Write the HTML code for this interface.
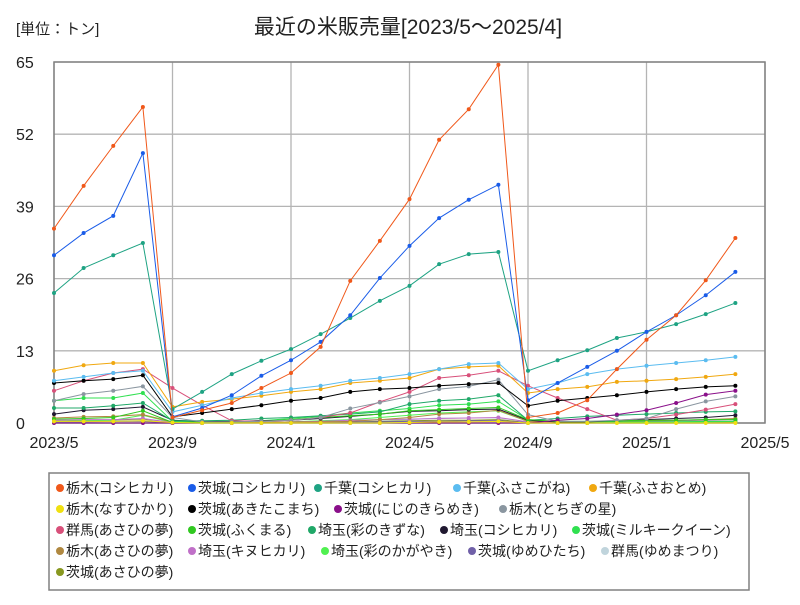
<!DOCTYPE html>
<html><head><meta charset="utf-8"><style>
body{margin:0;background:#fff;font-family:"Liberation Sans","Noto Sans CJK JP",sans-serif;}
svg text{font-family:"Liberation Sans","Noto Sans CJK JP",sans-serif;}
</style></head><body>
<svg id="c" width="800" height="600" xmlns="http://www.w3.org/2000/svg">
<rect width="800" height="600" fill="#fff"/>
<text x="16" y="34" font-size="15" fill="#222">[単位：トン]</text>
<text x="408" y="34" font-size="21" fill="#222" text-anchor="middle">最近の米販売量[2023/5～2025/4]</text>
<g id="grid"></g><g id="series"></g><g id="legend"></g>
</svg>
<script>
const yTicks = [0,13,26,39,52,65];
const xTickLabels = ["2023/5","2023/9","2024/1","2024/5","2024/9","2025/1","2025/5"];
const names = ["栃木(コシヒカリ)","茨城(コシヒカリ)","千葉(コシヒカリ)","千葉(ふさこがね)","千葉(ふさおとめ)","栃木(なすひかり)","茨城(あきたこまち)","茨城(にじのきらめき)","栃木(とちぎの星)","群馬(あさひの夢)","茨城(ふくまる)","埼玉(彩のきずな)","埼玉(コシヒカリ)","茨城(ミルキークイーン)","栃木(あさひの夢)","埼玉(キヌヒカリ)","埼玉(彩のかがやき)","茨城(ゆめひたち)","群馬(ゆめまつり)","茨城(あさひの夢)"];
const colors = ["#f0581a","#1a5ce8","#1ea383","#5bbcf0","#f0a810","#f0e010","#000000","#8a108a","#8a96a0","#d8507a","#30c820","#20a868","#201830","#30e050","#b08840","#c070c8","#50f050","#7060a8","#c0d4dc","#889820"];
const s0 = [35,42.7,49.9,56.9,1,2.3,3.6,6.3,9,13.7,25.6,32.8,40.3,51,56.5,64.5,1,1.8,4.1,9.7,15,19.4,25.7,33.3];
const s1 = [30.2,34.2,37.3,48.6,1.1,2.7,5,8.5,11.3,14.6,19.4,26.1,31.9,36.9,40.2,42.9,4.1,7.2,10.1,13,16.4,19.4,23,27.2];
const s2 = [23.4,27.9,30.2,32.4,2.5,5.6,8.8,11.2,13.3,16,18.9,22,24.7,28.6,30.4,30.8,9.4,11.3,13.1,15.3,16.4,17.8,19.6,21.6];
const s3 = [7.6,8.3,9,9.4,2,3.2,4.5,5.4,6.1,6.7,7.6,8.1,8.8,9.7,10.6,10.8,6.1,7.2,8.8,9.7,10.3,10.8,11.3,11.9];
const s4 = [9.4,10.4,10.8,10.8,2.9,3.8,4.3,4.9,5.6,6.1,7.2,7.6,8.1,9.7,10.1,10.3,5.4,6.1,6.5,7.4,7.6,7.9,8.3,8.8];
const s5 = [0.3,0.3,0.3,0.4,0.1,0,0,0,0,0,0,0,0.1,0.2,0.2,0.3,0,0,0,0,0,0,0,0];
const s6 = [7.2,7.6,7.9,8.6,1.1,1.8,2.5,3.2,4,4.5,5.6,6.1,6.3,6.7,7,7.2,3.1,4,4.5,5,5.6,6.1,6.5,6.7];
const s7 = [0,0,0,0,0,0,0,0,0,0,0,0,0,0,0,0,0,0.5,0.8,1.5,2.3,3.6,5.1,5.8];
const s8 = [4,5.2,5.8,6.6,1,0.2,0.2,0.3,0.5,1,2.6,3.7,4.8,6.1,6.6,7.8,1.5,0.3,0.3,0.5,0.8,2.5,3.9,4.8];
const s9 = [5.8,7.6,9,9.7,6.3,3.2,0.4,0.3,0.5,1,1.8,3.8,5.6,8.1,8.6,9.4,6.7,4.5,2.5,0.5,0.8,1.5,2.4,3.4];
const s10 = [0.7,0.8,1,2.2,0.1,0.1,0.2,0.3,0.6,1,1.3,1.6,2.2,2.4,2.6,2.8,0.6,0.3,0.3,0.4,0.5,0.5,0.6,0.6];
const s11 = [2.7,2.7,3.1,3.6,0.4,0.4,0.5,0.8,1,1.3,1.6,2,3.4,4,4.3,5,0.5,0.8,1.2,1.4,1.6,1.8,2,2.1];
const s12 = [1.6,2.3,2.5,2.9,0.5,0.3,0.3,0.4,0.5,0.8,1.2,1.6,2.1,2.2,2.4,2.5,0.5,0.2,0.2,0.4,0.6,0.8,1,1.4];
const s13 = [4,4.5,4.5,5.4,0.3,0.2,0.2,0.4,0.8,1.2,1.8,2.2,2.6,3.2,3.4,3.9,0.6,0.2,0.2,0.2,0.2,0.2,0.3,0.3];
const s14 = [0.9,1.1,1.2,1.5,0.2,0.1,0.1,0.1,0.2,0.2,0.3,0.6,1,1.6,1.8,2.3,0.3,0.2,0.2,0.3,0.4,0.5,0.6,0.8];
const s15 = [0.5,0.6,0.6,0.8,0.1,0,0,0.1,0.2,0.3,0.5,0.6,0.7,0.8,0.9,1,0.2,0.1,0.1,0.2,0.3,0.4,0.5,0.6];
const s16 = [0.3,0.4,0.5,1.4,0.1,0,0,0.1,0.2,0.4,0.6,1,1.4,1.8,2,2.2,0.3,0.1,0.1,0.1,0.2,0.2,0.2,0.3];
const s17 = [0.2,0.2,0.3,0.3,0,0,0,0,0.1,0.1,0.2,0.2,0.3,0.3,0.4,0.4,0.1,0,0,0.1,0.1,0.2,0.2,0.3];
const s18 = [0.3,0.4,0.4,0.5,0.1,0,0,0.1,0.2,0.3,0.4,0.5,0.6,0.9,0.9,0.9,0.2,0.1,0.1,0.1,0.2,0.2,0.3,0.3];
const s19 = [0.4,0.5,0.5,0.6,0.1,0,0,0.1,0.1,0.2,0.2,0.3,0.4,0.5,0.5,0.6,0.1,0,0,0.1,0.1,0.1,0.2,0.2];
const seriesData = [s0,s1,s2,s3,s4,s5,s6,s7,s8,s9,s10,s11,s12,s13,s14,s15,s16,s17,s18,s19];

const NS="http://www.w3.org/2000/svg";
const L=54,R=765,T=62,B=423,yMax=65,totalMonths=24;
const xs=i=>L+(R-L)*i/totalMonths;
const ys=v=>B-(B-T)*v/yMax;
function mk(tag,attrs,parent){const e=document.createElementNS(NS,tag);for(const k in attrs)e.setAttribute(k,attrs[k]);parent.appendChild(e);return e;}
const grid=document.getElementById('grid');
yTicks.forEach((t,i)=>{
  const ln=mk('line',{x1:L,x2:R,y1:ys(t),y2:ys(t),stroke:'#b4b4b4','stroke-width':1.3},grid);
  
  
  const tx=mk('text',{x:16,y:ys(t)+6,'font-size':16,fill:'#222'},grid);
  tx.textContent=t;
  
  
});
xTickLabels.forEach((lab,i)=>{
  const x=xs(i*4);
  const ln=mk('line',{x1:x,x2:x,y1:T,y2:B,stroke:'#b4b4b4','stroke-width':1.3},grid);
  
  
  const tx=mk('text',{x:x,y:448,'font-size':16,fill:'#222','text-anchor':'middle'},grid);
  tx.textContent=lab;
  
  
});
const frame=mk('rect',{x:L,y:T,width:R-L,height:B-T,fill:'none',stroke:'#808080','stroke-width':1.5},grid);


const sg=document.getElementById('series');
for(let k=seriesData.length-1;k>=0;k--){
  const d=seriesData[k];
  const g=mk('g',{},sg);
  
  
  const pts=d.map((v,i)=>xs(i)+','+ys(v)).join(' ');
  const pl=mk('polyline',{points:pts,fill:'none',stroke:colors[k],'stroke-width':1},g);
  
  
  d.forEach((v,i)=>{
    const c=mk('circle',{cx:xs(i),cy:ys(v),r:2,fill:colors[k]},g);
    
    
  });
}
const lg=document.getElementById('legend');
const box=mk('rect',{x:49,y:473,width:700,height:117,fill:'#fff',stroke:'#808080','stroke-width':1.5},lg);


const rowY=[488,509,530,551,572];
const rowX=[[60,192,318,457,593],[60,192,338,503],[60,192,312,444,576],[60,192,325,472,605],[60]];
let k=0;
rowX.forEach((xsRow,r)=>{
  xsRow.forEach((cx,j)=>{
    const cy=rowY[r];
    const next=j+1<xsRow.length?xsRow[j+1]:745;
    const g=mk('g',{},lg);
    
    
    mk('circle',{cx:cx,cy:cy,r:4,fill:colors[k]},g);
    const t=mk('text',{x:cx+6,y:cy+5,'font-size':14,fill:'#222'},g);
    t.textContent=names[k];
    const w=t.getComputedTextLength();
    const maxW=next-cx-14;
    if(w>maxW){t.setAttribute('textLength',maxW);t.setAttribute('lengthAdjust','spacingAndGlyphs');}
    k++;
  });
});
</script>
</body></html>
